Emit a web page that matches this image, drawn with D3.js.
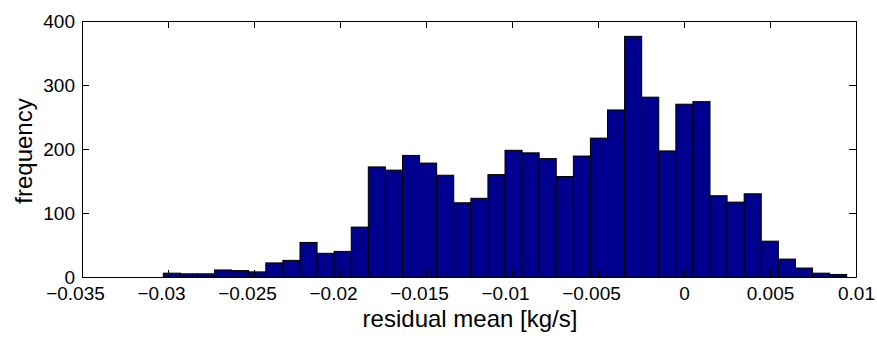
<!DOCTYPE html>
<html>
<head>
<meta charset="utf-8">
<script src="https://cdn.jsdelivr.net/npm/d3@7"></script>
<style>
  body { margin: 0; background: #fff; }
  text { font-family: "Liberation Sans", Arial, sans-serif; fill: #000; }
</style>
</head>
<body>
<div id="chart"></div>
<script>
// histogram bins: first edge and width in kg/s
var binStart = -0.030273;
var binWidth = 0.0009933;

// counts per bin, left to right
var counts = [6, 5, 5, 11, 10, 8, 22, 26, 54, 37,
              40, 78, 172, 167, 190, 178, 159, 116, 123, 160,
              198, 194, 185, 157, 189, 217, 261, 376, 281, 197,
              270, 274, 127, 117, 130, 56, 28, 14, 6, 4];

var xTicks = [-0.035, -0.03, -0.025, -0.02, -0.015, -0.01, -0.005, 0, 0.005, 0.01];
var yTicks = [0, 100, 200, 300, 400];

var bins = counts.map(function(c, i) {
  return {x0: binStart + i * binWidth, x1: binStart + (i + 1) * binWidth, value: c};
});

// set the dimensions and margins of the graph
var margin = {top: 21, right: 21, bottom: 61, left: 82},
    width = 877 - margin.left - margin.right,
    height = 338 - margin.top - margin.bottom;

var svg = d3.select("#chart")
  .append("svg")
    .attr("width", 877)
    .attr("height", 338)
  .append("g")
    .attr("transform", "translate(" + margin.left + "," + margin.top + ")");

var x = d3.scaleLinear().domain([-0.035, 0.01]).range([0, width]);
var y = d3.scaleLinear().domain([0, 400]).range([height, 0]);

// bars
svg.selectAll("rect.bar")
  .data(bins)
  .enter()
  .append("rect")
    .attr("class", "bar")
    .attr("x", function(d) { return x(d.x0); })
    .attr("y", function(d) { return y(d.value); })
    .attr("width", function(d) { return x(d.x1) - x(d.x0); })
    .attr("height", function(d) { return height - y(d.value); })
    .attr("fill", "#00008f")
    .attr("stroke", "#000")
    .attr("stroke-width", 1);

var fmt = function(d) { return d === 0 ? "0" : d3.format("")(d).replace("-", "\u2212"); };
var tickLen = 7;

// bottom axis, ticks pointing inward
var xAxis = svg.append("g")
  .attr("transform", "translate(0," + height + ")")
  .call(d3.axisBottom(x).tickValues(xTicks).tickFormat(fmt).tickSizeInner(-tickLen).tickSizeOuter(0).tickPadding(14));
// top axis
var xTop = svg.append("g")
  .call(d3.axisTop(x).tickValues(xTicks).tickFormat("").tickSizeInner(-tickLen).tickSizeOuter(0));
// left axis
var yAxis = svg.append("g")
  .call(d3.axisLeft(y).tickValues(yTicks).tickFormat(d3.format("d")).tickSizeInner(-tickLen).tickSizeOuter(0).tickPadding(14));
// right axis
var yRight = svg.append("g")
  .attr("transform", "translate(" + width + ",0)")
  .call(d3.axisRight(y).tickValues(yTicks).tickFormat("").tickSizeInner(-tickLen).tickSizeOuter(0));

[xAxis, xTop, yAxis, yRight].forEach(function(a) {
  a.select(".domain").attr("stroke", "#000").attr("stroke-width", 1);
  a.selectAll(".tick line").attr("stroke", "#000");
  a.selectAll("text").style("font-size", "19px").attr("fill", "#000");
});
yAxis.selectAll("text").attr("x", -7);
// negative labels: number part centred on the tick, minus sticks out left
xAxis.selectAll("text")
  .attr("y", 10)
  .attr("dx", function(d) { return d < 0 ? -7 : 0; });

// axis labels
svg.append("text")
  .attr("x", width / 2 + 1)
  .attr("y", height + 50)
  .style("text-anchor", "middle")
  .style("font-size", "24px")
  .text("residual mean [kg/s]");

svg.append("text")
  .attr("transform", "translate(-50," + (height / 2 + 2) + ") rotate(-90)")
  .style("text-anchor", "middle")
  .style("font-size", "24px")
  .text("frequency");
</script>
</body>
</html>
